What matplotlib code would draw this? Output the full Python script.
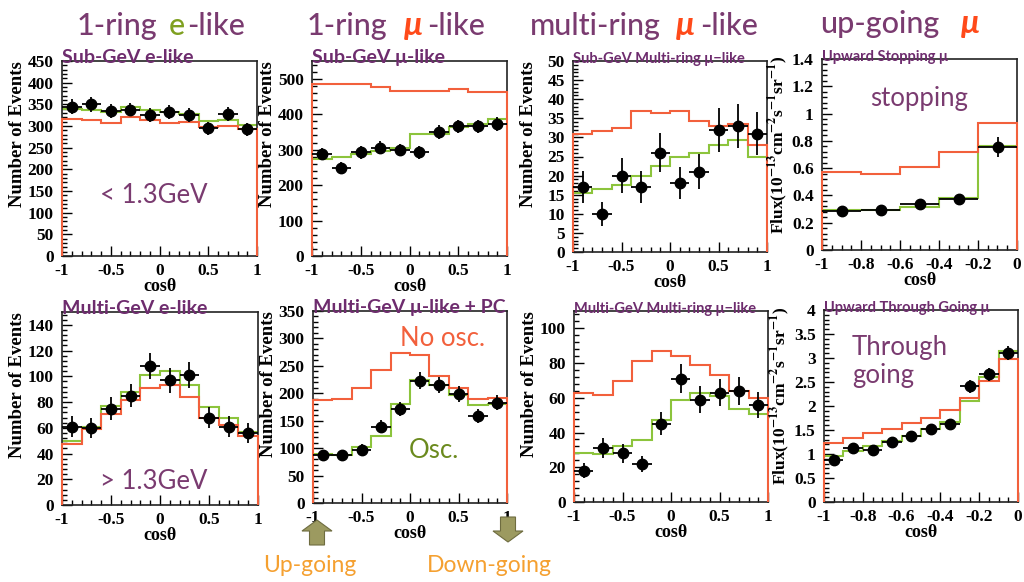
import matplotlib
matplotlib.use('Agg')
import matplotlib.pyplot as plt
import numpy as np
from matplotlib.ticker import MultipleLocator, AutoMinorLocator, FuncFormatter
from matplotlib.patches import FancyArrow

plt.rcParams.update({
    'font.family': ['Liberation Serif', 'DejaVu Serif'],
    'font.weight': 'bold',
    'mathtext.fontset': 'stix',
    'axes.linewidth': 1.2,
    'axes.edgecolor': '#222222',
})

# ---- data ----
edges_full = [-1.0, -0.8, -0.6, -0.4, -0.2, 0.0, 0.2, 0.4, 0.6, 0.8, 1.0]
edges_stop = [-1.0, -0.8, -0.6, -0.4, -0.2, 0.0]
edges_thru = [-1.0, -0.9, -0.8, -0.7, -0.6, -0.5, -0.4, -0.3, -0.2, -0.1, 0.0]

sge_data = [345, 350, 335, 338, 325, 332, 325, 295, 328, 292]
sge_err = [17, 17, 16, 16, 16, 16, 16, 15, 16, 15]
sge_osc = [340, 337, 332, 343, 337, 332, 328, 312, 315, 303]
sge_noosc = [316, 315, 308, 320, 313, 308, 310, 297, 300, 292]

sgm_data = [288, 248, 292, 306, 300, 292, 350, 366, 366, 372]
sgm_err = [17, 16, 17, 17, 17, 17, 19, 19, 19, 19]
sgm_osc = [274, 278, 287, 295, 304, 344, 344, 364, 373, 387]
sgm_noosc = [485, 484, 484, 478, 466, 465, 465, 471, 462, 462]

sgmr_data = [17, 10, 20, 17, 26, 18, 21, 32, 33, 31]
sgmr_err = [4.1, 3.2, 4.5, 4.1, 5.1, 4.2, 4.6, 5.7, 5.7, 5.6]
sgmr_osc = [15.5, 16.5, 17.5, 20, 22.5, 25, 26, 28, 29.3, 25]
sgmr_noosc = [31, 31.8, 32.4, 37, 36.3, 37, 34.3, 33, 33.4, 28]

stop_data = [0.285, 0.29, 0.335, 0.375, 0.755]
stop_err = [0.025, 0.025, 0.03, 0.035, 0.07]
stop_osc = [0.295, 0.29, 0.315, 0.38, 0.76]
stop_noosc = [0.57, 0.555, 0.605, 0.72, 0.93]

mge_data = [61, 60, 75, 85, 108, 97, 101, 68, 61, 56]
mge_err = [7.8, 7.7, 8.7, 9.2, 10.4, 9.8, 10, 8.2, 7.8, 7.5]
mge_osc = [50, 61, 77, 88, 101, 104, 93, 76, 68, 57]
mge_noosc = [47.5, 59, 71, 81.5, 91, 93, 84, 68, 62, 54]

mgm_data = [87, 88, 97, 139, 172, 223, 215, 199, 158, 183]
mgm_err = [9.3, 9.4, 9.8, 11.8, 13, 15, 14.7, 14, 12.6, 13.5]
mgm_osc = [90, 88, 102, 122, 180, 225, 215, 196, 178, 181]
mgm_noosc = [187, 189, 209, 243, 274, 270, 232, 210, 189, 192]

mgmr_data = [18, 31, 28, 22, 45, 71, 59, 63, 64, 56]
mgmr_err = [4.2, 5.6, 5.3, 4.7, 6.7, 8.4, 7.7, 7.9, 8, 7.5]
mgmr_osc = [28, 27.5, 32, 35.7, 47, 58.6, 63, 61, 53.8, 50.6]
mgmr_noosc = [62.8, 61.5, 69.5, 81, 87.2, 84, 78.8, 72.9, 64, 60]

thru_data = [0.87, 1.13, 1.08, 1.25, 1.38, 1.53, 1.62, 2.41, 2.66, 3.11]
thru_err = [0.08, 0.08, 0.08, 0.09, 0.09, 0.1, 0.1, 0.13, 0.13, 0.15]
thru_osc = [0.96, 1.06, 1.17, 1.27, 1.38, 1.52, 1.66, 2.11, 2.6, 3.14]
thru_noosc = [1.22, 1.34, 1.43, 1.53, 1.64, 1.74, 1.92, 2.16, 2.53, 2.97]

# ---- style ----
RED = '#f2603c'
GREEN = '#8cc43c'
PURPLE = '#7a3b70'
SUBPURPLE = '#6e2c6e'
SANS = ['Lato', 'DejaVu Sans']
SERIF = ['Liberation Serif', 'DejaVu Serif']
N_EVENTS = 'Number of Events'
FLUX = r'Flux(10$^{-13}$cm$^{-2}$s$^{-1}$sr$^{-1}$)'

W, H = 1024, 582
fig = plt.figure(figsize=(W / 100, H / 100), dpi=100)


def rect(l, t, r, b):
    return [l / W, 1 - b / H, (r - l) / W, (b - t) / H]


def fmt(v, p):
    if abs(v) < 1e-9:
        return '0'
    return f'{v:g}'


def panel(box, edges, data, err, osc, noosc, ymax, ystep, xstep, xminor,
          subtitle, subsize, ylabel):
    ax = fig.add_axes(rect(*box))
    edges = np.asarray(edges)
    centers = (edges[:-1] + edges[1:]) / 2
    half = np.diff(edges) / 2
    ax.stairs(osc, edges, baseline=None, color=GREEN, lw=1.5, zorder=2)
    ax.stairs(noosc, edges, baseline=0, color=RED, lw=1.5, zorder=3, clip_on=False)
    ax.errorbar(centers, data, yerr=err, xerr=half, fmt='o', color='black',
                ms=7.5, elinewidth=1.3, capsize=0, zorder=4)
    ax.set_xlim(edges[0], edges[-1])
    ax.set_ylim(0, ymax)
    ax.xaxis.set_major_locator(MultipleLocator(xstep))
    ax.xaxis.set_minor_locator(AutoMinorLocator(xminor))
    ax.yaxis.set_major_locator(MultipleLocator(ystep))
    ax.yaxis.set_minor_locator(AutoMinorLocator(5))
    ax.xaxis.set_major_formatter(FuncFormatter(fmt))
    ax.yaxis.set_major_formatter(FuncFormatter(fmt))
    ax.tick_params(which='both', direction='in', top=False, right=False, width=1)
    ax.tick_params(which='major', length=7, labelsize=12.5)
    ax.tick_params(which='minor', length=3.5)
    ax.tick_params(axis='y', pad=6)
    ax.tick_params(axis='x', pad=5)
    for lab in ax.get_xticklabels() + ax.get_yticklabels():
        lab.set_fontweight('bold')
        lab.set_family(SERIF)
    ax.set_xlabel('cosθ', fontsize=13, fontweight='bold', family=SERIF, labelpad=-1)
    ax.set_ylabel(ylabel, fontsize=13.5, fontweight='bold', family=SERIF, loc='top')
    ax.yaxis.set_label_coords(-0.185, 1.0)
    axh = box[3] - box[1]
    ax.text(0, 1 - 2 / axh, subtitle, transform=ax.transAxes, ha='left', va='baseline',
            fontsize=subsize, fontweight='bold', color=SUBPURPLE, family=SANS)
    return ax


ax1 = panel((62, 61, 257, 256), edges_full, sge_data, sge_err, sge_osc, sge_noosc,
            450, 50, 0.5, 5, 'Sub-GeV e-like', 14, N_EVENTS)
ax2 = panel((312, 61, 507, 256), edges_full, sgm_data, sgm_err, sgm_osc, sgm_noosc,
            550, 100, 0.5, 5, 'Sub-GeV μ-like', 14, N_EVENTS)
ax3 = panel((573, 61, 767, 252), edges_full, sgmr_data, sgmr_err, sgmr_osc, sgmr_noosc,
            50, 5, 0.5, 5, 'Sub-GeV Multi-ring μ−like', 10.5, N_EVENTS)
ax4 = panel((822, 59, 1017, 250), edges_stop, stop_data, stop_err, stop_osc, stop_noosc,
            1.4, 0.2, 0.2, 4, 'Upward Stopping μ', 10.5, FLUX)
ax5 = panel((62, 312, 258, 505), edges_full, mge_data, mge_err, mge_osc, mge_noosc,
            150, 20, 0.5, 5, 'Multi-GeV e-like', 14, N_EVENTS)
ax6 = panel((313, 311, 507, 503), edges_full, mgm_data, mgm_err, mgm_osc, mgm_noosc,
            350, 50, 0.5, 5, 'Multi-GeV μ-like + PC', 14, N_EVENTS)
ax7 = panel((574, 311, 768, 502), edges_full, mgmr_data, mgmr_err, mgmr_osc, mgmr_noosc,
            110, 20, 0.5, 5, 'Multi-GeV Multi-ring μ−like', 10.5, N_EVENTS)
ax8 = panel((824, 310, 1018, 502), edges_thru, thru_data, thru_err, thru_osc, thru_noosc,
            4, 0.5, 0.2, 4, 'Upward Through Going μ', 10.5, FLUX)

for ax in (ax4, ax8):
    ax.yaxis.set_label_coords(-0.165, 1.02)
    ax.yaxis.label.set_fontsize(12.5)

# in-panel notes
note = dict(family=SANS, fontsize=18.5, fontweight='normal', ha='left', va='baseline')
ax1.text(0.195, 0.27, '< 1.3GeV', transform=ax1.transAxes, color=PURPLE, **note)
ax5.text(0.195, 0.083, '> 1.3GeV', transform=ax5.transAxes, color=PURPLE, **note)
ax4.text(0.246, 0.754, 'stopping', transform=ax4.transAxes, color=PURPLE, **note)
ax8.text(0.144, 0.766, 'Through', transform=ax8.transAxes, color=PURPLE, **note)
ax8.text(0.144, 0.62, 'going', transform=ax8.transAxes, color=PURPLE, **note)
ax6.text(0.448, 0.82, 'No osc.', transform=ax6.transAxes, color=RED, **note)
ax6.text(0.495, 0.234, 'Osc.', transform=ax6.transAxes, color='#6b8a1e', **note)

# column headers built from coloured pieces
renderer = fig.canvas.get_renderer()


def header(x0, base, parts):
    x = x0
    for s, color, style, gap in parts:
        t = fig.text(x / W, 1 - base / H, s, color=color, style=style, family=SANS,
                     fontsize=22, fontweight='medium', ha='left', va='baseline')
        if style == 'italic':
            t.set_fontweight('bold')
            t.set_fontsize(24)
        x += t.get_window_extent(renderer).width + gap


header(77, 35, [('1-ring', PURPLE, 'normal', 11), ('e', '#7fa020', 'normal', 2),
                ('-like', PURPLE, 'normal', 0)])
header(307, 35, [('1-ring', PURPLE, 'normal', 16), ('μ', '#ff4a1a', 'italic', 5),
                 ('-like', PURPLE, 'normal', 0)])
header(530, 35, [('multi-ring', PURPLE, 'normal', 15), ('μ', '#ff4a1a', 'italic', 5),
                 ('-like', PURPLE, 'normal', 0)])
header(820, 33, [('up-going', PURPLE, 'normal', 22), ('μ', '#ff4a1a', 'italic', 0)])

# direction arrows and labels
arrow_kw = dict(transform=fig.transFigure, facecolor='#9c9a60', edgecolor='#6e6c40', lw=0.8,
                length_includes_head=True)
fig.add_artist(FancyArrow(317 / W, 1 - 545 / H, 0, 25 / H, width=15 / W,
                          head_width=30 / W, head_length=11 / H, **arrow_kw))
fig.add_artist(FancyArrow(508 / W, 1 - 517 / H, 0, -25 / H, width=15 / W,
                          head_width=30 / W, head_length=11 / H, **arrow_kw))
fig.text(263 / W, 1 - 572 / H, 'Up-going', color='#f5a030', family=SANS, fontsize=16.5,
         fontweight='normal', ha='left', va='baseline')
fig.text(427 / W, 1 - 572 / H, 'Down-going', color='#f5a030', family=SANS, fontsize=16.5,
         fontweight='normal', ha='left', va='baseline')

fig.savefig('out.png', dpi=100)
plt.close()
